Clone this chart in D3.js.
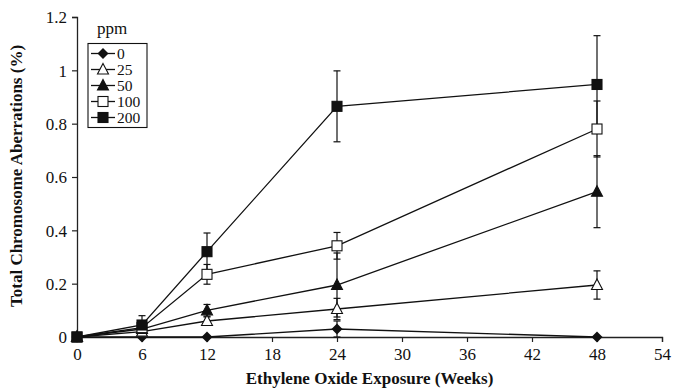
<!DOCTYPE html>
<html>
<head>
<meta charset="utf-8">
<script src="https://cdn.jsdelivr.net/npm/d3@7"></script>
<style>
  body { margin: 0; background: #fff; }
  svg { display: block; font-family: "Liberation Serif", "Times New Roman", serif; }
</style>
</head>
<body>
<div id="chart"></div>
<script>
// data
var weeks = [0, 6, 12, 24, 48];
var ppmLevels = ["0", "25", "50", "100", "200"];
var markerTypes = ["diamond", "triangleOpen", "triangle", "squareOpen", "square"];

var mean0 = [0, 0, 0, 0.03, 0];
var err0 = [0, 0, 0, 0.03, 0];
var mean25 = [0, 0.02, 0.06, 0.105, 0.195];
var err25 = [0, 0.01, 0.015, 0.04, 0.053];
var mean50 = [0, 0.03, 0.1, 0.195, 0.545];
var err50 = [0, 0.02, 0.022, 0.12, 0.135];
var mean100 = [0, 0.035, 0.235, 0.342, 0.78];
var err100 = [0, 0.02, 0.037, 0.05, 0.105];
var mean200 = [0, 0.045, 0.32, 0.865, 0.947];
var err200 = [0, 0.035, 0.07, 0.133, 0.183];

var xTicks = [0, 6, 12, 18, 24, 30, 36, 42, 48, 54];
var yTicks = [0, 0.2, 0.4, 0.6, 0.8, 1, 1.2];

(function(){
    var means = [mean0, mean25, mean50, mean100, mean200];
    var errs = [err0, err25, err50, err100, err200];

    var series = ppmLevels.map(function(p, i){
        return {
            name: p,
            marker: markerTypes[i],
            points: weeks.map(function(w, j){ return {x: w, y: means[i][j], e: errs[i][j]}; })
        };
    });

    var W = 673, H = 392;
    var plotLeft = 77, plotRight = 662, plotTop = 17, plotBottom = 337;
    var serif = "'Liberation Serif', 'Times New Roman', serif";

    var svg = d3.select("#chart").append("svg")
        .attr("width", W)
        .attr("height", H);

    var x = d3.scaleLinear().domain([0, 54]).range([plotLeft, plotRight]);
    var y = d3.scaleLinear().domain([0, 1.2]).range([plotBottom, plotTop]);

    // axes
    var xAxis = svg.append("g")
        .attr("transform", "translate(0," + plotBottom + ")")
        .call(d3.axisBottom(x).tickValues(xTicks).tickSize(5).tickPadding(4).tickFormat(d3.format("d")));

    var yAxis = svg.append("g")
        .attr("transform", "translate(" + plotLeft + ",0)")
        .call(d3.axisLeft(y).tickValues(yTicks).tickSize(5).tickPadding(5).tickFormat(function(d){ return d3.format("~g")(d); }));

    [xAxis, yAxis].forEach(function(a){
        a.attr("font-family", serif);
        a.select(".domain").attr("stroke", "#222").attr("stroke-width", 1.3);
        a.selectAll(".tick line").attr("stroke", "#222").attr("stroke-width", 1.2);
        a.selectAll(".tick text")
            .attr("fill", "#111")
            .attr("font-size", "17px")
            .attr("font-family", serif);
    });
    xAxis.selectAll(".tick text").attr("dy", "0.85em");
    yAxis.selectAll(".tick text").attr("dy", "0.35em");

    // axis titles
    svg.append("text")
        .attr("x", (plotLeft + plotRight) / 2)
        .attr("y", 384)
        .attr("text-anchor", "middle")
        .attr("font-family", serif)
        .attr("font-size", "17px")
        .attr("font-weight", "bold")
        .attr("fill", "#111")
        .text("Ethylene Oxide Exposure (Weeks)");

    svg.append("text")
        .attr("transform", "translate(22," + 176 + ") rotate(-90)")
        .attr("text-anchor", "middle")
        .attr("font-family", serif)
        .attr("font-size", "17px")
        .attr("font-weight", "bold")
        .attr("fill", "#111")
        .text("Total Chromosome Aberrations (%)");

    // marker drawing
    function drawMarker(g, type, cx, cy){
        if (type == "diamond"){
            g.append("path")
                .attr("d", "M" + cx + "," + (cy - 5.5) + "L" + (cx + 5.5) + "," + cy + "L" + cx + "," + (cy + 5.5) + "L" + (cx - 5.5) + "," + cy + "Z")
                .attr("fill", "#111");
        } else if (type == "triangle" || type == "triangleOpen"){
            g.append("path")
                .attr("d", "M" + cx + "," + (cy - 6) + "L" + (cx + 5.5) + "," + (cy + 4.5) + "L" + (cx - 5.5) + "," + (cy + 4.5) + "Z")
                .attr("fill", type == "triangle" ? "#111" : "#fff")
                .attr("stroke", "#111")
                .attr("stroke-width", 1.1);
        } else {
            g.append("rect")
                .attr("x", cx - 5)
                .attr("y", cy - 5)
                .attr("width", 10)
                .attr("height", 10)
                .attr("fill", type == "square" ? "#111" : "#fff")
                .attr("stroke", "#111")
                .attr("stroke-width", 1.1);
        }
    }

    var line = d3.line()
        .x(function(d){ return x(d.x); })
        .y(function(d){ return y(d.y); });

    var plot = svg.append("g");

    // lines
    plot.selectAll("path.series-line")
        .data(series)
        .enter()
        .append("path")
        .classed("series-line", true)
        .attr("d", function(d){ return line(d.points); })
        .attr("fill", "none")
        .attr("stroke", "#111")
        .attr("stroke-width", 1.3);

    // error bars
    series.forEach(function(s){
        s.points.forEach(function(p){
            if (p.e <= 0) return;
            var cx = x(p.x), y1 = y(p.y + p.e), y2 = y(Math.max(0, p.y - p.e));
            plot.append("line")
                .attr("x1", cx).attr("x2", cx).attr("y1", y1).attr("y2", y2)
                .attr("stroke", "#111").attr("stroke-width", 1.2);
            [y1, y2].forEach(function(yy){
                plot.append("line")
                    .attr("x1", cx - 3.5).attr("x2", cx + 3.5).attr("y1", yy).attr("y2", yy)
                    .attr("stroke", "#111").attr("stroke-width", 1.2);
            });
        });
    });

    // markers
    series.forEach(function(s){
        var g = plot.append("g").classed("markers-" + s.name, true);
        s.points.forEach(function(p){
            drawMarker(g, s.marker, x(p.x), y(p.y));
        });
    });

    // legend
    svg.append("text")
        .attr("x", 97)
        .attr("y", 34)
        .attr("font-family", serif)
        .attr("font-size", "17px")
        .attr("fill", "#111")
        .text("ppm");

    var legend = svg.append("g");
    legend.append("rect")
        .attr("x", 88)
        .attr("y", 43.5)
        .attr("width", 59)
        .attr("height", 84)
        .attr("fill", "#fff")
        .attr("stroke", "#111")
        .attr("stroke-width", 1.1);

    series.forEach(function(s, i){
        var ly = 53.5 + i * 16;
        legend.append("line")
            .attr("x1", 91).attr("x2", 115).attr("y1", ly).attr("y2", ly)
            .attr("stroke", "#111").attr("stroke-width", 1.3);
        drawMarker(legend, s.marker, 103, ly);
        legend.append("text")
            .attr("x", 117)
            .attr("y", ly)
            .attr("dy", "0.35em")
            .attr("font-family", serif)
            .attr("font-size", "15.5px")
            .attr("fill", "#111")
            .text(s.name);
    });
})();
</script>
</body>
</html>
